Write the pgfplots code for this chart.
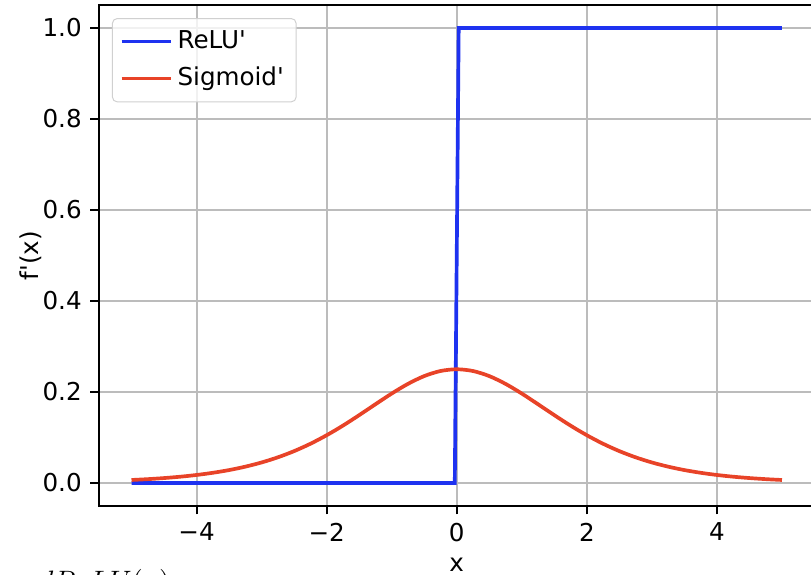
\documentclass[border=0pt]{standalone}
\usepackage{pgfplots}
\pgfplotsset{compat=1.18}
\usepackage{fontspec}
\setmainfont{DejaVu Sans}

\definecolor{relublue}{RGB}{30,50,240}
\definecolor{sigred}{RGB}{232,67,40}
\definecolor{gridgray}{HTML}{B0B0B0}

\newlength\px
\setlength\px{0.4065pt}

\begin{document}
\begin{tikzpicture}
\useasboundingbox (0,0) rectangle (811\px,-574\px);
\clip (0,0) rectangle (811\px,-574\px);
\begin{axis}[
  at={(99\px,-505.75\px)}, anchor=south west,
  scale only axis,
  width=715.5\px, height=500.5\px,
  xmin=-5.5, xmax=5.5,
  ymin=-0.05, ymax=1.05,
  xtick={-4,-2,0,2,4},
  xticklabels={−4,−2,0,2,4},
  ytick={0,0.2,0.4,0.6,0.8,1.0},
  yticklabels={0.0,0.2,0.4,0.6,0.8,1.0},
  tick align=outside,
  major tick length=3.5pt,
  every tick/.style={black, line width=0.8pt},
  xtick pos=bottom, ytick pos=left,
  ticklabel style={font=\fontsize{10}{12}\selectfont},
  axis line style={line width=0.8pt},
  grid=major,
  grid style={gridgray!85, line width=0.8pt},
  xlabel={x}, ylabel={f\textquotesingle(x)},
  label style={font=\fontsize{10}{12}\selectfont},
  every axis x label/.style={at={(axis description cs:0.5,-0.118)}, anchor=center},
  every axis y label/.style={at={(axis description cs:-0.096,0.5)}, anchor=center, rotate=90},
  legend style={at={(axis description cs:0.018,0.9745)}, anchor=north west,
    draw=gridgray!60, rounded corners=2pt, fill=white, fill opacity=0.8, text opacity=1,
    font=\fontsize{10}{12}\selectfont, row sep=2pt, inner sep=3pt},
  legend cell align=left,
  legend image code/.code={\draw[#1, line width=1.5pt] (0pt,0pt) -- (20pt,0pt);},
  every axis plot/.append style={line width=1.5pt},
  clip=false,
]
\addplot[relublue] coordinates {(-5,0) (-0.03,0) (0.03,1) (5,1)};
\addlegendentry{ReLU\textquotesingle}
\addplot[sigred, smooth, tension=0.5] coordinates {
  (-5,0.006648) (-4.75,0.008503) (-4.5,0.010866) (-4.25,0.013866) (-4,0.017663)
  (-3.75,0.022449) (-3.5,0.028453) (-3.25,0.035934) (-3,0.045177)
  (-2.75,0.056477) (-2.5,0.070104) (-2.25,0.086257) (-2,0.104994)
  (-1.75,0.126129) (-1.5,0.149146) (-1.25,0.173104) (-1,0.196612)
  (-0.75,0.217895) (-0.5,0.235004) (-0.25,0.246134) (0,0.25)
  (0.25,0.246134) (0.5,0.235004) (0.75,0.217895) (1,0.196612)
  (1.25,0.173104) (1.5,0.149146) (1.75,0.126129) (2,0.104994)
  (2.25,0.086257) (2.5,0.070104) (2.75,0.056477) (3,0.045177)
  (3.25,0.035934) (3.5,0.028453) (3.75,0.022449) (4,0.017663)
  (4.25,0.013866) (4.5,0.010866) (4.75,0.008503) (5,0.006648)};
\addlegendentry{Sigmoid\textquotesingle}
\end{axis}
\node[anchor=north west, inner sep=0pt, font=\large] at (38\px,-569\px) {$dReLU(x)$};
\end{tikzpicture}
\end{document}
